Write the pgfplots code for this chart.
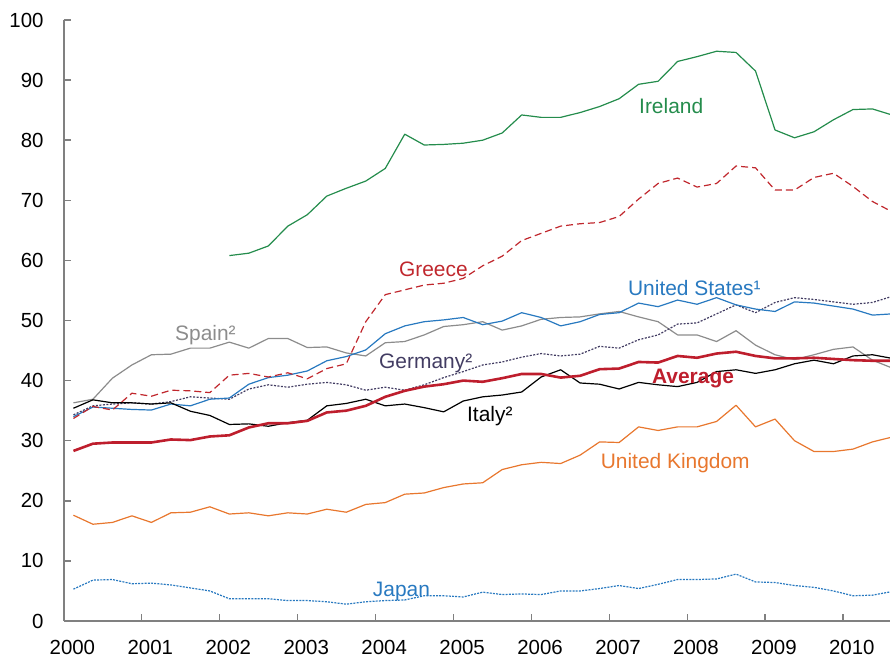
\documentclass[border=0pt]{standalone}
\usepackage{fontspec}
\setmainfont{Liberation Sans}
\usepackage{pgfplots}
\usepackage{pgfplotstable}
\pgfplotsset{compat=1.18}
\definecolor{cIre}{RGB}{36,140,76}
\definecolor{cGre}{RGB}{192,39,45}
\definecolor{cUS}{RGB}{40,121,192}
\definecolor{cSpa}{RGB}{140,140,140}
\definecolor{cGer}{RGB}{66,60,98}
\definecolor{cAvg}{RGB}{190,30,45}
\definecolor{cUK}{RGB}{232,119,46}
\definecolor{cJap}{RGB}{40,121,192}
\definecolor{cAx}{RGB}{128,128,128}
\newcommand{\lab}{\fontsize{21}{25}\selectfont}
\pgfplotstableread{
x ire gre us spa ger ita avg uk jap
2000.125 nan 33.7 34.0 36.3 34.3 35.4 28.3 17.6 5.3
2000.375 nan 35.7 35.6 36.9 35.8 36.8 29.5 16.1 6.8
2000.625 nan 35.1 35.4 40.4 36.1 36.3 29.7 16.4 6.9
2000.875 nan 37.9 35.2 42.6 36.3 36.3 29.7 17.5 6.2
2001.125 nan 37.4 35.1 44.3 36.1 36.1 29.7 16.4 6.3
2001.375 nan 38.4 36.1 44.4 36.5 36.3 30.2 18.0 6.0
2001.625 nan 38.3 35.8 45.4 37.3 34.9 30.1 18.1 5.5
2001.875 nan 38.0 36.9 45.4 37.1 34.2 30.7 19.0 5.0
2002.125 60.8 40.9 37.1 46.4 36.9 32.7 30.9 17.8 3.7
2002.375 61.2 41.2 39.4 45.4 38.6 32.8 32.2 18.0 3.7
2002.625 62.4 40.6 40.5 47.0 39.3 32.4 32.9 17.5 3.7
2002.875 65.7 41.3 40.9 47.0 38.9 33.0 32.9 18.0 3.4
2003.125 67.6 40.3 41.6 45.5 39.4 33.4 33.3 17.8 3.4
2003.375 70.7 42.0 43.3 45.6 39.7 35.8 34.7 18.6 3.2
2003.625 72.0 42.8 44.0 44.6 39.3 36.2 35.0 18.1 2.8
2003.875 73.2 49.8 45.1 44.1 38.4 36.9 35.8 19.4 3.2
2004.125 75.3 54.3 47.8 46.3 38.9 35.8 37.3 19.7 3.4
2004.375 81.0 55.1 49.1 46.5 38.4 36.1 38.3 21.1 3.5
2004.625 79.2 55.9 49.8 47.6 39.3 35.5 39.0 21.3 4.2
2004.875 79.3 56.2 50.1 49.0 40.5 34.8 39.4 22.2 4.2
2005.125 79.5 57.0 50.5 49.3 41.5 36.6 40.0 22.8 4.0
2005.375 80.0 59.1 49.3 49.8 42.6 37.3 39.8 23.0 4.8
2005.625 81.2 60.7 49.9 48.4 43.1 37.6 40.4 25.2 4.4
2005.875 84.2 63.3 51.3 49.1 43.9 38.1 41.1 26.0 4.5
2006.125 83.8 64.5 50.5 50.2 44.5 40.6 41.1 26.4 4.4
2006.375 83.8 65.7 49.1 50.5 44.1 41.8 40.5 26.2 5.0
2006.625 84.6 66.1 49.8 50.6 44.4 39.6 40.8 27.6 5.0
2006.875 85.6 66.3 51.0 51.1 45.7 39.4 41.9 29.8 5.4
2007.125 86.9 67.3 51.3 51.5 45.4 38.6 42.0 29.7 5.9
2007.375 89.3 70.2 52.9 50.6 46.8 39.7 43.1 32.3 5.4
2007.625 89.8 72.8 52.3 49.8 47.6 39.3 43.0 31.7 6.1
2007.875 93.1 73.7 53.4 47.6 49.4 39.0 44.1 32.3 6.9
2008.125 93.9 72.2 52.7 47.6 49.6 39.7 43.8 32.3 6.9
2008.375 94.8 72.8 53.8 46.5 51.1 41.5 44.5 33.2 7.0
2008.625 94.6 75.7 52.6 48.3 52.6 41.8 44.8 35.9 7.8
2008.875 91.5 75.4 51.9 45.9 51.3 41.2 44.1 32.3 6.5
2009.125 81.7 71.7 51.5 44.3 53.0 41.8 43.7 33.6 6.4
2009.375 80.4 71.7 53.1 43.5 53.8 42.8 43.7 30.0 5.9
2009.625 81.4 73.8 52.9 44.3 53.5 43.4 43.8 28.2 5.6
2009.875 83.4 74.5 52.4 45.2 53.1 42.8 43.6 28.2 5.0
2010.125 85.1 72.3 51.9 45.6 52.7 44.1 43.4 28.6 4.2
2010.375 85.2 69.8 50.9 43.4 53.0 44.3 43.3 29.8 4.3
2010.625 84.2 68.1 51.1 42.1 54.0 43.7 43.3 30.6 4.9
}\data
\begin{document}
\begin{tikzpicture}
\useasboundingbox (0,0) rectangle (890bp,658bp);
\begin{axis}[
  at={(63.7bp,37bp)}, anchor=south west,
  scale only axis, width=826.3bp, height=601bp,
  xmin=2000, xmax=2010.6, ymin=0, ymax=100,
  axis x line*=bottom, axis y line*=left,
  axis line style={-, draw=cAx},
  x axis line style={line width=1.7bp},
  y axis line style={line width=2.1bp},
  xtick={2000,...,2010}, ytick={0,10,...,100},
  tick align=inside, major tick length=7bp,
  tick style={draw=cAx, line width=1.5bp},
  /pgf/number format/assume math mode=true,
  /pgf/number format/1000 sep={},
  ticklabel style={font=\fontsize{20.5}{24}\selectfont, text=black},
  xticklabel style={anchor=north, inner sep=0pt, yshift=-19bp, xshift=8.7bp},
  yticklabel style={anchor=east, inner sep=0pt, xshift=-20bp},
  clip=true,
  every axis plot/.append style={line join=round},
]
\addplot[cUK, line width=1.2bp] table[x=x, y=uk] {\data};
\addplot[cJap, line width=1.2bp, dash pattern=on 2bp off 1.2bp] table[x=x, y=jap] {\data};
\addplot[cSpa, line width=1.2bp] table[x=x, y=spa] {\data};
\addplot[cGer, line width=1.2bp, dash pattern=on 2bp off 1.5bp] table[x=x, y=ger] {\data};
\addplot[cUS, line width=1.2bp] table[x=x, y=us] {\data};
\addplot[black, line width=1.2bp] table[x=x, y=ita] {\data};
\addplot[cGre, line width=1.2bp, dash pattern=on 7bp off 4bp] table[x=x, y=gre] {\data};
\addplot[cIre, line width=1.2bp] table[x=x, y=ire] {\data};
\addplot[cAvg, line width=2.6bp] table[x=x, y=avg] {\data};
\node[anchor=base west, inner sep=0pt, text=cIre, font=\lab] at (axis cs:2007.38,84.5) {Ireland};
\node[anchor=base west, inner sep=0pt, text=cGre, font=\lab] at (axis cs:2004.30,57.3) {Greece};
\node[anchor=base west, inner sep=0pt, text=cUS, font=\lab] at (axis cs:2007.238,54.1) {United States¹};
\node[anchor=base west, inner sep=0pt, text=cSpa, font=\lab] at (axis cs:2001.428,46.7) {Spain²};
\node[anchor=base west, inner sep=0pt, text=cGer, font=\lab] at (axis cs:2004.045,42.0) {Germany²};
\node[anchor=base west, inner sep=0pt, text=cAvg, font=\lab\bfseries] at (axis cs:2007.546,39.55) {Average};
\node[anchor=base west, inner sep=0pt, text=black, font=\lab] at (axis cs:2005.173,33.2) {Italy²};
\node[anchor=base west, inner sep=0pt, text=cUK, font=\lab] at (axis cs:2006.888,25.4) {United Kingdom};
\node[anchor=base west, inner sep=0pt, text=cJap, font=\lab] at (axis cs:2003.964,4.04) {Japan};
\end{axis}
\end{tikzpicture}
\end{document}
